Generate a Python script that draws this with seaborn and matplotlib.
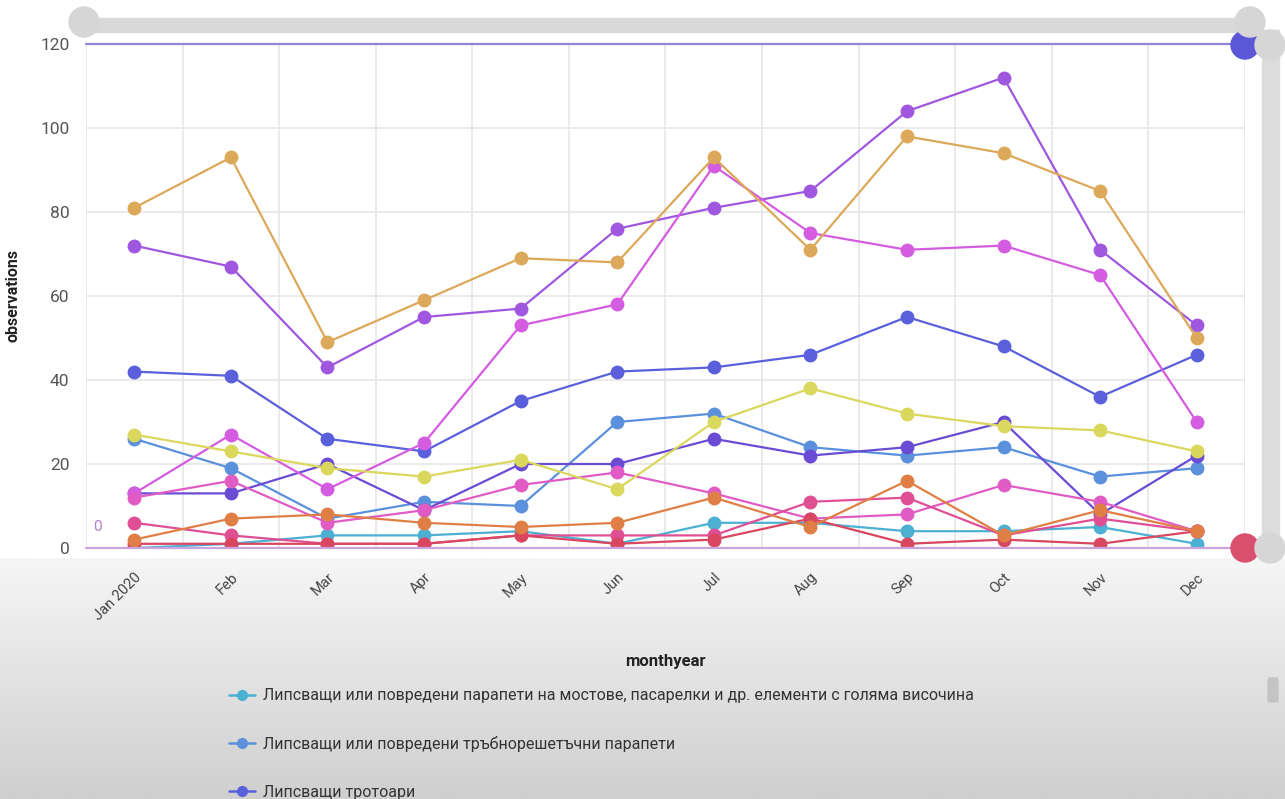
import numpy as np
import pandas as pd
import matplotlib
matplotlib.use('Agg')
import matplotlib.pyplot as plt
from matplotlib.lines import Line2D
from matplotlib.patches import Circle, Rectangle, FancyBboxPatch
import seaborn as sns

months = ['Jan 2020', 'Feb', 'Mar', 'Apr', 'May', 'Jun',
          'Jul', 'Aug', 'Sep', 'Oct', 'Nov', 'Dec']

# series values
cyan = [0, 1, 3, 3, 4, 1, 6, 6, 4, 4, 5, 1]
steel = [26, 19, 7, 11, 10, 30, 32, 24, 22, 24, 17, 19]
slate = [42, 41, 26, 23, 35, 42, 43, 46, 55, 48, 36, 46]
indigo = [13, 13, 20, 9, 20, 20, 26, 22, 24, 30, 8, 22]
purple = [72, 67, 43, 55, 57, 76, 81, 85, 104, 112, 71, 53]
magenta = [13, 27, 14, 25, 53, 58, 91, 75, 71, 72, 65, 30]
pink = [12, 16, 6, 9, 15, 18, 13, 7, 8, 15, 11, 4]
pinkred = [6, 3, 1, 1, 3, 3, 3, 11, 12, 3, 7, 4]
red = [1, 1, 1, 1, 3, 1, 2, 7, 1, 2, 1, 4]
orange = [2, 7, 8, 6, 5, 6, 12, 5, 16, 3, 9, 4]
tan = [81, 93, 49, 59, 69, 68, 93, 71, 98, 94, 85, 50]
yellow = [27, 23, 19, 17, 21, 14, 30, 38, 32, 29, 28, 23]

legend_labels = [
    'Липсващи или повредени парапети на мостове, пасарелки и др. елементи с голяма височина',
    'Липсващи или повредени тръбнорешетъчни парапети',
    'Липсващи тротоари',
]

series = {
    legend_labels[0]: cyan,
    legend_labels[1]: steel,
    legend_labels[2]: slate,
    's4': indigo,
    's5': purple,
    's6': magenta,
    's7': pink,
    's8': pinkred,
    's9': red,
    's10': orange,
    's11': tan,
    's12': yellow,
}
colors = ['#4bb0d2', '#5a90dc', '#5a60dc', '#6a4cd4', '#a057e0', '#d35ce0',
          '#e05cc4', '#df4f93', '#d9465f', '#e07f45', '#dca85a', '#d9d85c']

rows = []
for name, vals in series.items():
    for i, v in enumerate(vals):
        rows.append({'series': name, 'pos': i, 'observations': v})
df = pd.DataFrame(rows)

sns.set_style('white')
plt.rcParams['font.family'] = ['Roboto', 'DejaVu Sans']

fig = plt.figure(figsize=(12.85, 7.99), dpi=100)
fig.patch.set_facecolor('white')

# grey gradient under the plot (dashboard background)
bg = fig.add_axes([0, 0, 1, 1 - 558 / 799], zorder=-5)
grad = np.linspace(0, 1, 200).reshape(-1, 1)
bg.imshow(grad, cmap=matplotlib.colors.LinearSegmentedColormap.from_list('g', ['#f6f6f6', '#cfcfcf']),
          aspect='auto', extent=[0, 1, 0, 1], origin='upper')
bg.axis('off')

ax = fig.add_axes([86 / 1285, 1 - 548 / 799, (1245 - 86) / 1285, (548 - 44) / 799])
ax.set_facecolor('white')

sns.lineplot(data=df, x='pos', y='observations', hue='series', palette=colors,
             marker='o', markersize=10, markeredgewidth=0, linewidth=1.6,
             ax=ax, legend=False, zorder=3)

ax.set_xlim(-0.5, 11.5)
ax.set_ylim(0, 120)
ax.set_yticks(np.arange(0, 121, 20))
ax.set_xticks(range(12))
ax.set_xticks(np.arange(-0.5, 12, 1), minor=True)
ax.set_xticklabels(months, rotation=45, ha='right', rotation_mode='anchor',
                   fontsize=10.5, color='#444444')
ax.tick_params(axis='y', labelsize=12.5, colors='#555555', length=0, pad=12)
ax.tick_params(axis='x', which='both', length=0, pad=16)
ax.grid(axis='y', color='#e6e6e6', linewidth=1.2)
ax.grid(axis='x', which='minor', color='#e6e6e6', linewidth=1.2)
ax.grid(axis='x', which='major', visible=False)
for s in ax.spines.values():
    s.set_visible(False)
ax.axhline(120, color='#8f88d8', linewidth=1.6, zorder=4, clip_on=False)
ax.axhline(0, color='#caa4dc', linewidth=1.6, zorder=4, clip_on=False)

ax.set_xlabel('monthyear', fontsize=12, fontweight='bold', color='#222222', labelpad=22)
ax.set_ylabel('observations', fontsize=11.5, fontweight='bold', color='#222222', labelpad=14)
ax.text(-0.38, 5, '0', color='#b080d0', fontsize=11, va='center', ha='center')

# legend (only the first three entries are visible in the screenshot)
handles = [Line2D([0], [0], color=c, marker='o', markersize=7, linewidth=1.8)
           for c in colors[:3]]
fig.legend(handles, legend_labels, loc='upper left',
           bbox_to_anchor=(226 / 1285, 1 - 685 / 799), frameon=False,
           fontsize=11.5, labelspacing=2.05, handlelength=1.6, handletextpad=0.5,
           labelcolor='#333333', borderaxespad=0, borderpad=0.2)

# range slider decorations
px = fig.dpi_scale_trans
def P(x, y):
    return (x / 100, (799 - y) / 100)

fig.patches.append(Rectangle(P(82, 32), 11.7, 0.14, transform=px, color='#d9d9d9', zorder=10))
fig.patches.append(Rectangle(P(1262, 550), 0.17, 5.2, transform=px, color='#dcdcdc', zorder=10))
fig.patches.append(Circle(P(1245, 45), 0.14, transform=px, color='#5b57d6', zorder=11))
fig.patches.append(Circle(P(1245, 548), 0.14, transform=px, color='#d8506e', zorder=11))
for (cx, cy) in [(84, 22), (1250, 22), (1270, 45), (1270, 548)]:
    fig.patches.append(Circle(P(cx, cy), 0.15, transform=px, color='#d6d6d6', zorder=12))
fig.patches.append(FancyBboxPatch(P(1270, 700), 0.06, 0.2, boxstyle='round,pad=0.02',
                                  transform=px, color='#c4c4c4', zorder=12))

fig.savefig('out.png', dpi=100)
